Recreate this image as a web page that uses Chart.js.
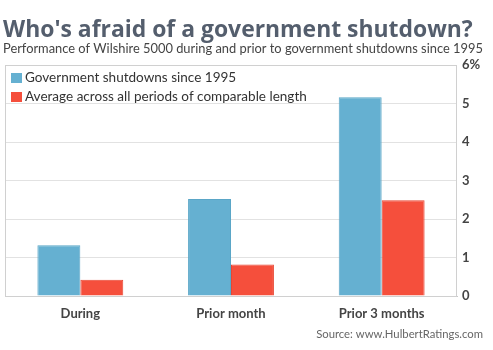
<!DOCTYPE html>
<html>
<head>
<meta charset="utf-8">
<script src="https://cdn.jsdelivr.net/npm/chart.js@4/dist/chart.umd.min.js"></script>
<style>
html,body{margin:0;padding:0;background:#fff;}
#wrap{width:493px;height:350px;position:relative;}
</style>
</head>
<body>
<div id="wrap"><canvas id="c" width="493" height="350"></canvas></div>
<script>
const categories = ["During", "Prior month", "Prior 3 months"];
const shutdownValues = [1.32, 2.52, 5.16];
const averageValues = [0.42, 0.82, 2.49];
const seriesLabels = ["Government shutdowns since 1995", "Average across all periods of comparable length"];
const yTicks = [0, 1, 2, 3, 4, 5, 6];
const titleText = "Who's afraid of a government shutdown?";
const subtitleText = "Performance of Wilshire 5000 during and prior to government shutdowns since 1995";
const sourceText = "Source: www.HulbertRatings.com";

const BLUE = "#65b0d1";
const RED = "#f54f3c";
const FONT = "Lato, 'Open Sans', sans-serif";
const TITLE_FONT = "'Open Sans', sans-serif";

function fitFont(ctx, text, weight, target, family) {
  family = family || FONT;
  ctx.font = weight + " 20px " + family;
  const w = ctx.measureText(text).width;
  return weight + " " + (20 * target / w).toFixed(2) + "px " + family;
}

const decor = {
  id: "decor",
  beforeDatasetsDraw(chart) {
    const {ctx, chartArea: a} = chart;
    ctx.save();
    ctx.strokeStyle = "#d0d0d0";
    ctx.lineWidth = 1;
    ctx.strokeRect(a.left + 0.5, a.top + 0.5, a.right - a.left - 1, a.bottom - a.top);
    ctx.restore();
  },
  afterDraw(chart) {
    const {ctx, chartArea: a} = chart;
    ctx.save();
    ctx.textBaseline = "alphabetic";
    ctx.textAlign = "left";
    ctx.fillStyle = "#545e6d";
    ctx.font = fitFont(ctx, titleText, "bold", 470, TITLE_FONT);
    ctx.fillText(titleText, 3, 37);
    ctx.fillStyle = "#444";
    ctx.font = fitFont(ctx, subtitleText, "normal", 480);
    ctx.fillText(subtitleText, 3, 52.5);
    // legend
    const colors = [BLUE, RED];
    ctx.font = fitFont(ctx, seriesLabels[1], "normal", 282);
    ctx.textBaseline = "middle";
    seriesLabels.forEach((lab, i) => {
      const y = a.top + 13 + i * 19;
      ctx.fillStyle = colors[i];
      ctx.fillRect(a.left + 6, y - 5, 11, 10);
      ctx.fillStyle = "#333";
      ctx.fillText(lab, a.left + 20, y);
    });
    ctx.textAlign = "right";
    ctx.fillStyle = "#666";
    ctx.font = fitFont(ctx, sourceText, "normal", 167);
    ctx.fillText(sourceText, 483, 334);
    ctx.restore();
  }
};

new Chart(document.getElementById("c"), {
  type: "bar",
  data: {
    labels: categories,
    datasets: [
      {label: seriesLabels[0], data: shutdownValues, backgroundColor: BLUE, borderColor: "#5aa6c7", borderWidth: 1},
      {label: seriesLabels[1], data: averageValues, backgroundColor: RED, borderColor: "#e84633", borderWidth: 1}
    ]
  },
  options: {
    responsive: false,
    animation: false,
    devicePixelRatio: 1,
    layout: {padding: {top: 65, left: 5, right: 0, bottom: 0}},
    plugins: {legend: {display: false}, tooltip: {enabled: false}, title: {display: false}},
    datasets: {bar: {categoryPercentage: 0.57, barPercentage: 1.0}},
    scales: {
      x: {
        grid: {display: false},
        border: {display: true, color: "#c8c8c8"},
        ticks: {color: "#444", font: {family: FONT, size: 13, weight: "bold"}, padding: 2, maxRotation: 0},
        afterFit(s) { s.height = 54; }
      },
      y: {
        position: "right",
        min: 0, max: 6,
        afterBuildTicks(s) { s.ticks = yTicks.map(v => ({value: v})); },
        grid: {color: "#e2e2e2", drawTicks: false},
        border: {display: false},
        ticks: {
          color: "#444", padding: 5,
          font: {family: FONT, size: 13, weight: "bold"},
          callback: v => v === 6 ? v + "%" : String(v)
        },
        afterFit(s) { s.width = 36; }
      }
    }
  },
  plugins: [decor]
});
</script>
</body>
</html>
